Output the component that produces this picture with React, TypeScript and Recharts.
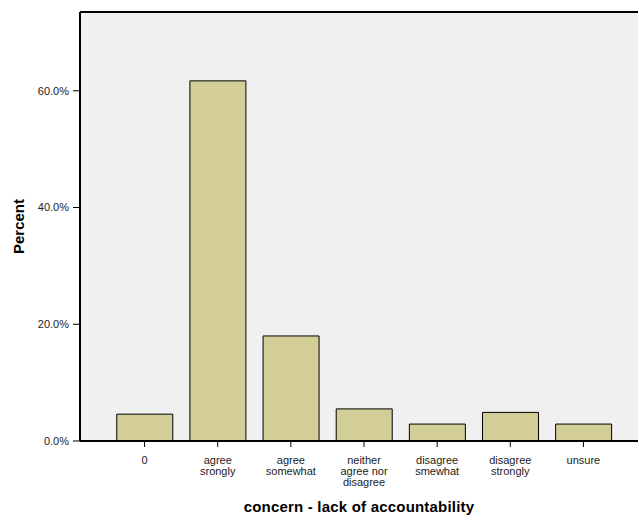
import { BarChart, Bar, XAxis, YAxis, CartesianGrid, ReferenceLine } from 'recharts';

const categories = ['0', 'agree\nsrongly', 'agree\nsomewhat', 'neither\nagree nor\ndisagree', 'disagree\nsmewhat', 'disagree\nstrongly', 'unsure'];
const percents = [4.6, 61.7, 18.0, 5.5, 2.9, 4.9, 2.9];
const yTicks = [0, 20, 40, 60];

const data = categories.map((c, i) => ({ name: c, percent: percents[i] }));

const FONT = '"Liberation Sans", Arial, sans-serif';

function CategoryTick(props: any) {
  const { x, y, payload } = props;
  const lines = String(payload.value).split('\n');
  return (
    <text x={x} y={y} textAnchor="middle" fontFamily={FONT} fontSize={11} fill="#222">
      {lines.map((l, i) => (
        <tspan key={i} x={x} dy={i === 0 ? 15 : 11}>{l}</tspan>
      ))}
    </text>
  );
}

export default function App() {
  return (
    <div style={{ position: 'absolute', left: 0, top: 0, background: '#fff' }}>
      <BarChart width={639} height={521} data={data} margin={{ top: 12, right: 1, left: 0, bottom: 0 }} barCategoryGap="12%">
        <CartesianGrid fill="#F0F0F0" stroke="none" horizontal={false} vertical={false} />
        <XAxis
          dataKey="name"
          height={80}
          padding={{ left: 28, right: 18 }}
          axisLine={{ stroke: '#000', strokeWidth: 2 }}
          tickLine={{ stroke: '#000' }}
          tickSize={6}
          tick={<CategoryTick />}
          interval={0}
          label={{ value: 'concern - lack of accountability', position: 'insideBottom', offset: 9, style: { fontFamily: FONT, fontSize: 15, fontWeight: 'bold', fill: '#000', letterSpacing: 0.2 } }}
        />
        <YAxis
          width={80}
          domain={[0, 73.5]}
          ticks={yTicks}
          tickFormatter={(v: number) => v.toFixed(1) + '%'}
          axisLine={{ stroke: '#000', strokeWidth: 2 }}
          tickLine={{ stroke: '#000' }}
          tickSize={7}
          tickMargin={4}
          tick={{ fontFamily: FONT, fontSize: 11, fill: '#222' }}
          label={{ value: 'Percent', angle: -90, position: 'insideLeft', offset: 19, style: { fontFamily: FONT, fontSize: 15, fontWeight: 'bold', fill: '#000', textAnchor: 'middle' } }}
        />
        <ReferenceLine y={73.5} stroke="#000" strokeWidth={2} />
        <Bar dataKey="percent" fill="#D3CE98" stroke="#000" strokeWidth={1} isAnimationActive={false} />
      </BarChart>
    </div>
  );
}
